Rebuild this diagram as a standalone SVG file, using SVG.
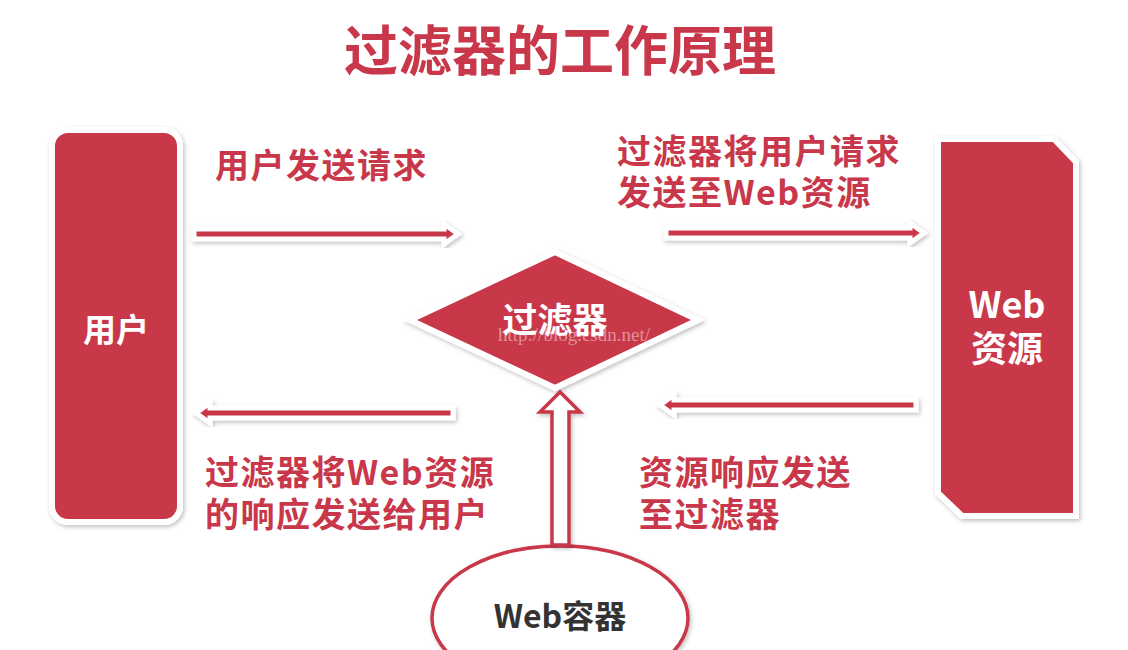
<svg xmlns="http://www.w3.org/2000/svg" width="1128" height="650" viewBox="0 0 1128 650">
<defs>
<style>
.cn{font-family:"Noto Sans CJK SC","Noto Sans",sans-serif;font-weight:700;}
.red{fill:#c8374a;}
.lbl{fill:#c8374a;font-size:34px;letter-spacing:1.5px;}
.wt{fill:#ffffff;}
.arr{fill:#c8374a;stroke:#ffffff;stroke-width:5;stroke-linejoin:miter;filter:url(#sh);}
.box{fill:#c8374a;stroke:#ffffff;stroke-width:6;filter:url(#sh);}
</style>
<filter id="sh" x="-20%" y="-20%" width="140%" height="140%">
<feDropShadow dx="1.5" dy="2" stdDeviation="2" flood-color="#000000" flood-opacity="0.25"/>
</filter>
</defs>
<rect width="1128" height="650" fill="#ffffff"/>

<g id="title">
<text class="cn red" x="560" y="71" font-size="54" text-anchor="middle">过滤器的工作原理</text>
</g>

<g id="user">
<rect class="box" x="52" y="130" width="128" height="392" rx="16"/>
<text class="cn wt" x="116" y="342" font-size="33" text-anchor="middle">用户</text>
</g>

<g id="webres">
<polygon class="box" points="938,139 1054,139 1076,162 1076,516 962,516 938,493"/>
<text class="cn wt" x="1007" y="318" font-size="36" text-anchor="middle">Web<tspan x="1007" y="362">资源</tspan></text>
</g>

<g id="filter">
<polygon class="box" points="555,252 698,320 555,388 410,320"/>
<text class="cn wt" x="555" y="333" font-size="35" text-anchor="middle">过滤器</text>
</g>

<g id="container">
<ellipse cx="560" cy="618" rx="128" ry="72" fill="#ffffff" stroke="#c8374a" stroke-width="3.5" filter="url(#sh)"/>
<text class="cn" x="560" y="628" font-size="32" fill="#333333" text-anchor="middle">Web容器</text>
</g>

<g id="connectors">
<polygon class="arr" points="194,229 444,229 444,224 458,234 444,244 444,239 194,239"/>
<polygon class="arr" points="666,228 910,228 910,223 924,233 910,243 910,238 666,238"/>
<polygon class="arr" points="453,408 210,408 210,403 196,413 210,423 210,418 453,418"/>
<polygon class="arr" points="916,400 674,400 674,395 660,405 674,415 674,410 916,410"/>
<polygon points="552,545 552,412 540,412 560,392 580,412 569,412 569,545" fill="#ffffff" stroke="#c8374a" stroke-width="3.5" stroke-linejoin="miter" filter="url(#sh)"/>
</g>

<g id="labels">
<text class="cn lbl" x="215" y="178">用户发送请求</text>
<text class="cn lbl" x="617" y="164">过滤器将用户请求</text>
<text class="cn lbl" x="617" y="205">发送至Web资源</text>
<text class="cn lbl" x="205" y="485">过滤器将Web资源</text>
<text class="cn lbl" x="205" y="527">的响应发送给用户</text>
<text class="cn lbl" x="639" y="485">资源响应发送</text>
<text class="cn lbl" x="639" y="527">至过滤器</text>
</g>

<g id="watermark">
<text x="574" y="341" font-family="Liberation Serif,serif" font-size="19" fill="#ffffff" fill-opacity="0.45" text-anchor="middle">http://blog.csdn.net/</text>
</g>
</svg>
